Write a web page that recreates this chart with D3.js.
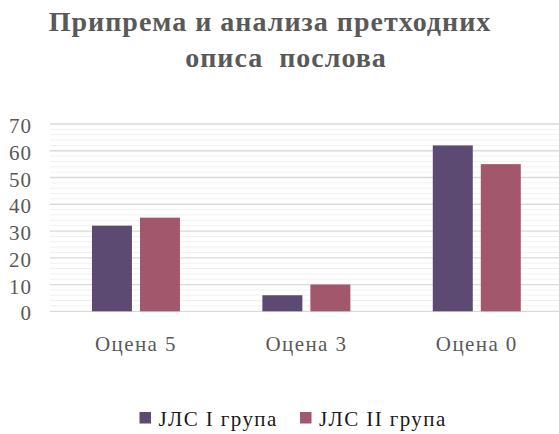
<!DOCTYPE html>
<html>
<head>
<meta charset="utf-8">
<script src="https://cdn.jsdelivr.net/npm/d3@7"></script>
<style>
  body { margin: 0; background: #fff; }
  svg { display: block; }
</style>
</head>
<body>
<svg id="chart" width="559" height="434"></svg>
<script>
const titleLines = ["Припрема и анализа претходних", "описа  послова"];
const categories = ["Оцена 5", "Оцена 3", "Оцена 0"];
const seriesNames = ["ЈЛС I група", "ЈЛС II група"];
const group1 = [32, 6, 62];
const group2 = [35, 10, 55];
const yTicks = [0, 10, 20, 30, 40, 50, 60, 70];
const colors = ["#5c4a72", "#a3576c"];

const svg = d3.select("#chart");
const font = "'Liberation Serif', 'Times New Roman', serif";

// title
svg.append("g").selectAll("text")
  .data(titleLines)
  .enter().append("text")
  .attr("x", (d, i) => i == 0 ? 270 : 286)
  .attr("y", (d, i) => 31 + i * 36)
  .attr("text-anchor", "middle")
  .attr("font-family", font)
  .attr("font-weight", "bold")
  .attr("font-size", 28)
  .attr("letter-spacing", 1)
  .attr("fill", "#595959")
  .style("white-space", "pre")
  .text(d => d);

let plotLeft = 50.75, plotRight = 562, plotTop = 124, plotBottom = 311.3;

let x0 = d3.scaleBand().domain(categories).range([plotLeft, plotRight]).padding(0);
let y = d3.scaleLinear().domain([0, 70]).range([plotBottom, plotTop]);

// gridlines: minor every 2, major every 10
let minor = d3.range(0, 71, 2).filter(v => v % 10 != 0);
svg.append("g").selectAll("line")
  .data(minor)
  .enter().append("line")
  .attr("x1", 50).attr("x2", 559)
  .attr("y1", d => y(d)).attr("y2", d => y(d))
  .attr("stroke", "#f0f0f0")
  .attr("stroke-width", 1);

svg.append("g").selectAll("line")
  .data(yTicks)
  .enter().append("line")
  .attr("x1", 50).attr("x2", 559)
  .attr("y1", d => y(d)).attr("y2", d => y(d))
  .attr("stroke", "#d9d9d9")
  .attr("stroke-width", 1.3);

// y tick labels
svg.append("g").selectAll("text")
  .data(yTicks)
  .enter().append("text")
  .attr("x", 32)
  .attr("y", d => y(d) + 9)
  .attr("text-anchor", "end")
  .attr("font-family", font)
  .attr("font-size", 21)
  .attr("letter-spacing", 1)
  .attr("fill", "#595959")
  .text(d => d);

// bars
let rows = categories.map((c, i) => ({ cat: c, vals: [group1[i], group2[i]] }));
let x1 = d3.scaleBand().domain([0, 1]).paddingInner(0.167).range([0, 88]);

let groups = svg.append("g").selectAll("g")
  .data(rows)
  .enter().append("g")
  .attr("transform", d => {
    let c = x0(d.cat) + x0.bandwidth() / 2;
    return "translate(" + (c - 44) + ",0)";
  });

groups.selectAll("rect")
  .data(d => d.vals.map((v, i) => ({ v: v, i: i })))
  .enter().append("rect")
  .attr("x", d => x1(d.i))
  .attr("width", x1.bandwidth())
  .attr("y", d => y(d.v))
  .attr("height", d => y(0) - y(d.v))
  .attr("fill", d => colors[d.i]);

// category labels
svg.append("g").selectAll("text")
  .data(categories)
  .enter().append("text")
  .attr("x", d => x0(d) + x0.bandwidth() / 2)
  .attr("y", 351)
  .attr("text-anchor", "middle")
  .attr("font-family", font)
  .attr("font-size", 21)
  .attr("letter-spacing", 1.4)
  .attr("fill", "#595959")
  .text(d => d);

// legend
let legendX = [139.5, 300];
let legend = svg.append("g").selectAll("g")
  .data(seriesNames)
  .enter().append("g")
  .attr("transform", (d, i) => "translate(" + legendX[i] + ",412)");

legend.append("rect")
  .attr("width", 11.5).attr("height", 11.5)
  .attr("fill", (d, i) => colors[i]);

legend.append("text")
  .attr("x", 19)
  .attr("y", 13.5)
  .attr("font-family", font)
  .attr("font-size", 21)
  .attr("letter-spacing", 1.4)
  .attr("fill", "#1a1a1a")
  .text(d => d);
</script>
</body>
</html>
